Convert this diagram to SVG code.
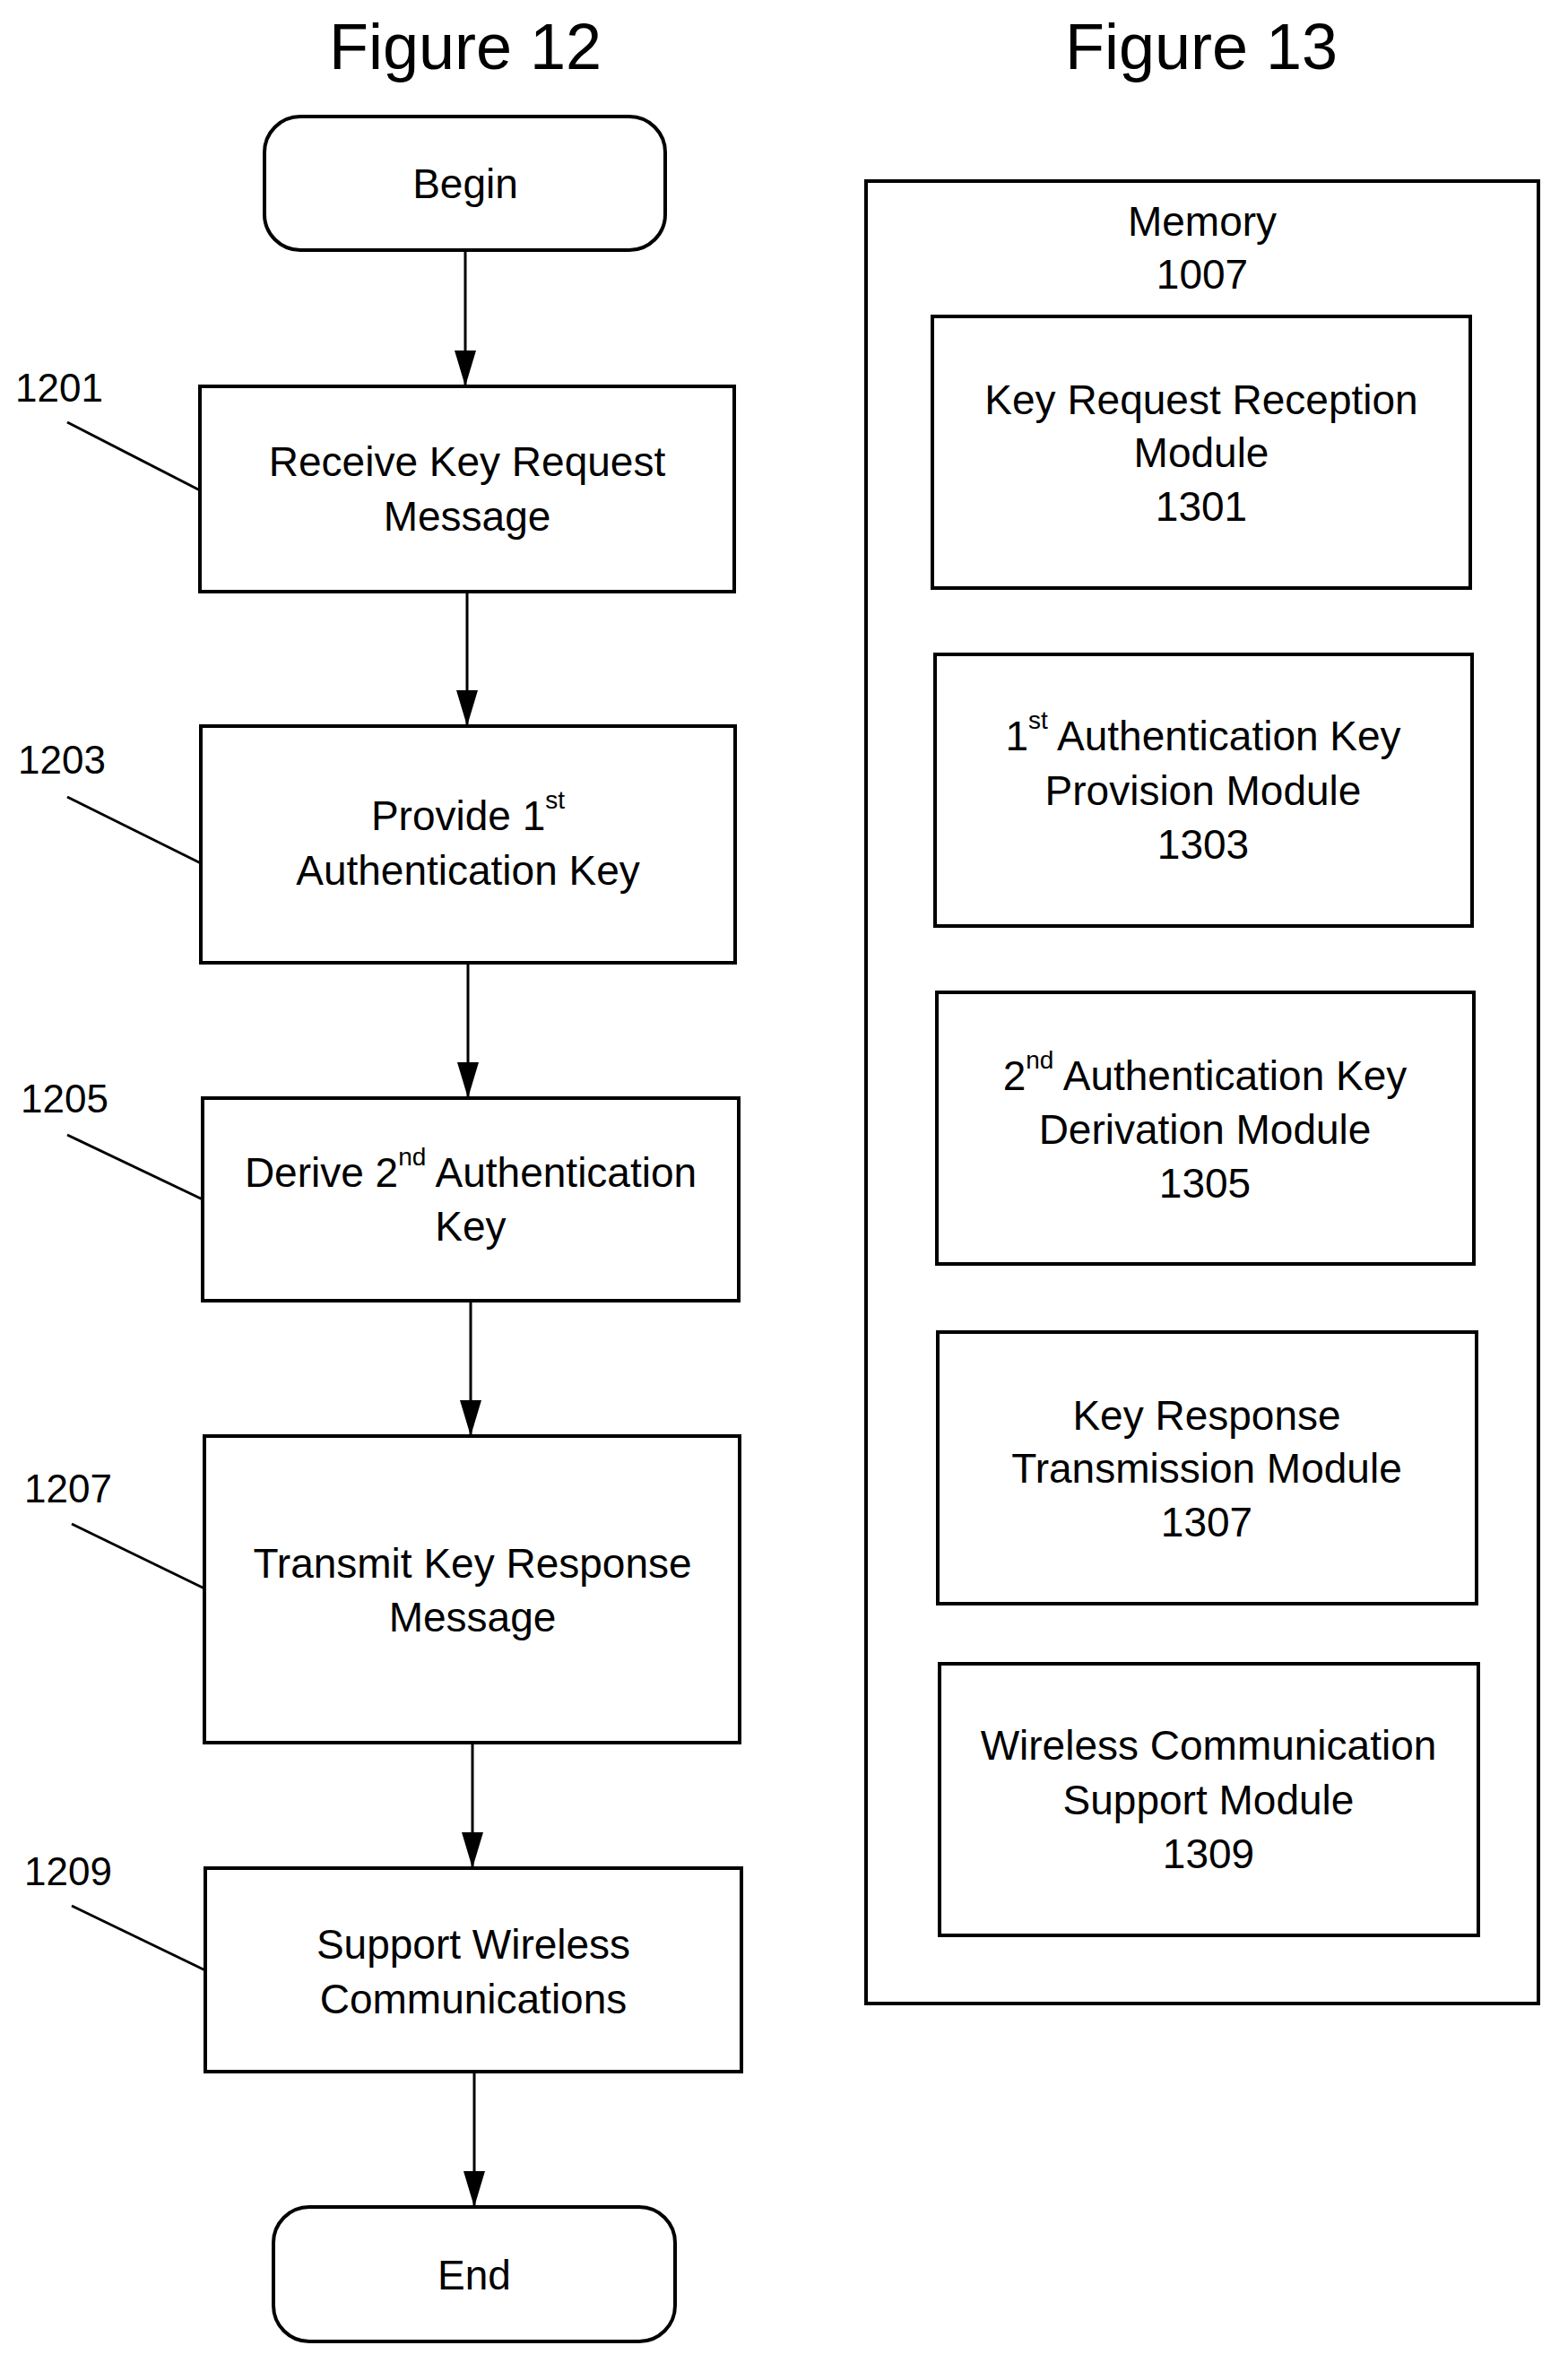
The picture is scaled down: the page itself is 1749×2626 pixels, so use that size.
<svg xmlns="http://www.w3.org/2000/svg" width="1749" height="2626" viewBox="0 0 1749 2626">
<style>
.b{fill:#fff;stroke:#000;stroke-width:4}
text{font-family:"Liberation Sans",Arial,sans-serif;font-size:46px;fill:#000;text-anchor:middle;dominant-baseline:central}
.t{font-size:72px}
.n{text-anchor:start;font-size:44px}
.c{stroke:#000;stroke-width:3;fill:none}
.s{font-size:28px}
</style>
<defs><marker id="ah" viewBox="0 0 40 24" markerWidth="40" markerHeight="24" refX="40" refY="12" orient="auto" markerUnits="userSpaceOnUse"><path d="M0,0 L40,12 L0,24 z"/></marker></defs>
<text class="t" x="519" y="52">Figure 12</text>
<text class="t" x="1340" y="52">Figure 13</text>
<g id="begin"><rect class="b" x="295" y="130" width="447" height="149" rx="40"/><text x="519" y="205">Begin</text></g>
<g id="n1201"><rect class="b" x="223" y="431" width="596" height="229"/><text x="521" y="515">Receive Key Request</text><text x="521" y="576">Message</text><text class="n" x="17" y="432">1201</text></g>
<g id="n1203"><rect class="b" x="224" y="810" width="596" height="264"/><text x="522" y="910">Provide 1<tspan class="s" dy="-18">st</tspan></text><text x="522" y="971">Authentication Key</text><text class="n" x="20" y="847">1203</text></g>
<g id="n1205"><rect class="b" x="226" y="1225" width="598" height="226"/><text x="525" y="1308">Derive 2<tspan class="s" dy="-18">nd</tspan><tspan dy="18"> Authentication</tspan></text><text x="525" y="1368">Key</text><text class="n" x="23" y="1225">1205</text></g>
<g id="n1207"><rect class="b" x="228" y="1602" width="597" height="342"/><text x="527" y="1744">Transmit Key Response</text><text x="527" y="1804">Message</text><text class="n" x="27" y="1660">1207</text></g>
<g id="n1209"><rect class="b" x="229" y="2084" width="598" height="227"/><text x="528" y="2169">Support Wireless</text><text x="528" y="2230">Communications</text><text class="n" x="27" y="2087">1209</text></g>
<g id="end"><rect class="b" x="305" y="2462" width="448" height="150" rx="40"/><text x="529" y="2538">End</text></g>
<g id="memory"><rect class="b" x="966" y="202" width="750" height="2033"/><text x="1341" y="247">Memory</text><text x="1341" y="306">1007</text></g>
<g id="m1301"><rect class="b" x="1040" y="353" width="600" height="303"/><text x="1340" y="446">Key Request Reception</text><text x="1340" y="505">Module</text><text x="1340" y="565">1301</text></g>
<g id="m1303"><rect class="b" x="1043" y="730" width="599" height="303"/><text x="1342" y="821">1<tspan class="s" dy="-18">st</tspan><tspan dy="18"> Authentication Key</tspan></text><text x="1342" y="882">Provision Module</text><text x="1342" y="942">1303</text></g>
<g id="m1305"><rect class="b" x="1045" y="1107" width="599" height="303"/><text x="1344" y="1200">2<tspan class="s" dy="-18">nd</tspan><tspan dy="18"> Authentication Key</tspan></text><text x="1344" y="1260">Derivation Module</text><text x="1344" y="1320">1305</text></g>
<g id="m1307"><rect class="b" x="1046" y="1486" width="601" height="303"/><text x="1346" y="1579">Key Response</text><text x="1346" y="1638">Transmission Module</text><text x="1346" y="1698">1307</text></g>
<g id="m1309"><rect class="b" x="1048" y="1856" width="601" height="303"/><text x="1348" y="1947">Wireless Communication</text><text x="1348" y="2008">Support Module</text><text x="1348" y="2068">1309</text></g>
<g id="connectors">
<path class="c" d="M519,279 V431" marker-end="url(#ah)"/>
<path class="c" d="M521,660 V810" marker-end="url(#ah)"/>
<path class="c" d="M522,1074 V1225" marker-end="url(#ah)"/>
<path class="c" d="M525,1451 V1602" marker-end="url(#ah)"/>
<path class="c" d="M527,1944 V2084" marker-end="url(#ah)"/>
<path class="c" d="M529,2311 V2462" marker-end="url(#ah)"/>
<path class="c" d="M75,471 L223,547"/>
<path class="c" d="M75,889 L224,963"/>
<path class="c" d="M75,1266 L226,1338"/>
<path class="c" d="M80,1700 L228,1772"/>
<path class="c" d="M80,2126 L229,2198"/>
</g>
</svg>
